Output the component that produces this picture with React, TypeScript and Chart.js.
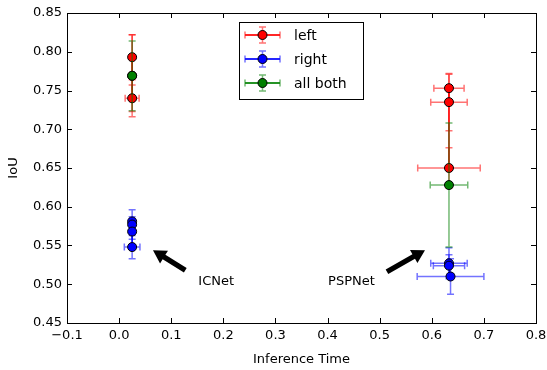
import React, { useEffect, useRef } from 'react';
import { Chart, registerables } from 'chart.js';
Chart.register(...registerables);

const seriesNames = ['left', 'right', 'all both'];
const seriesColors = ['#ff0000', '#0000ff', '#008000'];
const errColors = ['rgba(255,0,0,0.55)', 'rgba(0,0,255,0.55)', 'rgba(0,128,0,0.55)'];

// ICNet
const icnetLeftX = [0.025, 0.025, 0.025];
const icnetLeftY = [0.793, 0.769, 0.740];
const icnetLeftXErr = [0.003, 0.003, 0.0134];
const icnetLeftYErr = [0.029, 0.053, 0.017];

const icnetRightX = [0.025, 0.025, 0.025, 0.025];
const icnetRightY = [0.581, 0.577, 0.568, 0.548];
const icnetRightXErr = [0.003, 0.003, 0.003, 0.015];
const icnetRightYErr = [0.015, 0.01, 0.01, 0.015];

const icnetBothX = [0.025];
const icnetBothY = [0.769];
const icnetBothXErr = [0.003];
const icnetBothYErr = [0.045];

// PSPNet
const pspLeftX = [0.633, 0.633, 0.633];
const pspLeftY = [0.753, 0.735, 0.650];
const pspLeftXErr = [0.029, 0.035, 0.06];
const pspLeftYErr = [0.018, 0.037, 0.026];

const pspRightX = [0.633, 0.633, 0.636];
const pspRightY = [0.527, 0.524, 0.510];
const pspRightXErr = [0.035, 0.03, 0.064];
const pspRightYErr = [0.02, 0.014, 0.023];

const pspBothX = [0.633];
const pspBothY = [0.628];
const pspBothXErr = [0.036];
const pspBothYErr = [0.08];

// Annotations
const annotationTexts = ['ICNet', 'PSPNet'];
const annotationTextX = [0.152, 0.401];
const annotationTextY = [0.503, 0.504];
const arrowTipX = [0.065, 0.587];
const arrowTipY = [0.544, 0.544];
const arrowTailX = [0.127, 0.514];
const arrowTailY = [0.518, 0.516];

const xMin = -0.1, xMax = 0.8, xStep = 0.1;
const yMin = 0.45, yMax = 0.85, yStep = 0.05;
const xTitle = 'Inference Time';
const yTitle = 'IoU';

const FONT = "'DejaVu Sans', sans-serif";

function pts(xs: number[], ys: number[]) {
  return xs.map((x, i) => ({ x, y: ys[i] }));
}

const groups = [
  { s: 0, xs: icnetLeftX, ys: icnetLeftY, xe: icnetLeftXErr, ye: icnetLeftYErr },
  { s: 0, xs: pspLeftX, ys: pspLeftY, xe: pspLeftXErr, ye: pspLeftYErr },
  { s: 1, xs: icnetRightX, ys: icnetRightY, xe: icnetRightXErr, ye: icnetRightYErr },
  { s: 1, xs: pspRightX, ys: pspRightY, xe: pspRightXErr, ye: pspRightYErr },
  { s: 2, xs: icnetBothX, ys: icnetBothY, xe: icnetBothXErr, ye: icnetBothYErr },
  { s: 2, xs: pspBothX, ys: pspBothY, xe: pspBothXErr, ye: pspBothYErr },
];

const CAP = 3.5;

const errorBarPlugin = {
  id: 'errbars',
  beforeDatasetDraw(chart: any, args: any) {
    const g = groups[args.index];
    const ctx = chart.ctx;
    const xs = chart.scales.x, ys = chart.scales.y;
    ctx.save();
    ctx.strokeStyle = errColors[g.s];
    ctx.lineWidth = 1.5;
    g.xs.forEach((xv: number, i: number) => {
      const yv = g.ys[i];
      const px = xs.getPixelForValue(xv), py = ys.getPixelForValue(yv);
      const x1 = xs.getPixelForValue(xv - g.xe[i]), x2 = xs.getPixelForValue(xv + g.xe[i]);
      const y1 = ys.getPixelForValue(yv - g.ye[i]), y2 = ys.getPixelForValue(yv + g.ye[i]);
      ctx.beginPath();
      ctx.moveTo(x1, py); ctx.lineTo(x2, py);
      ctx.moveTo(px, y1); ctx.lineTo(px, y2);
      ctx.moveTo(x1, py - CAP); ctx.lineTo(x1, py + CAP);
      ctx.moveTo(x2, py - CAP); ctx.lineTo(x2, py + CAP);
      ctx.moveTo(px - CAP, y1); ctx.lineTo(px + CAP, y1);
      ctx.moveTo(px - CAP, y2); ctx.lineTo(px + CAP, y2);
      ctx.stroke();
    });
    ctx.restore();
  },
};

const framePlugin = {
  id: 'frame',
  afterDraw(chart: any) {
    const ctx = chart.ctx;
    const { left, right, top, bottom } = chart.chartArea;
    const xs = chart.scales.x, ys = chart.scales.y;
    ctx.save();
    ctx.strokeStyle = '#000';
    ctx.lineWidth = 1;
    const TL = 5;
    ctx.beginPath();
    xs.ticks.forEach((t: any) => {
      const p = Math.round(xs.getPixelForValue(t.value)) + 0.5;
      ctx.moveTo(p, bottom); ctx.lineTo(p, bottom - TL);
      ctx.moveTo(p, top); ctx.lineTo(p, top + TL);
    });
    ys.ticks.forEach((t: any) => {
      const p = Math.round(ys.getPixelForValue(t.value)) + 0.5;
      ctx.moveTo(left, p); ctx.lineTo(left + TL, p);
      ctx.moveTo(right, p); ctx.lineTo(right - TL, p);
    });
    ctx.stroke();
    ctx.strokeRect(Math.round(left) + 0.5, Math.round(top) + 0.5, Math.round(right - left), Math.round(bottom - top));

    // annotations
    ctx.fillStyle = '#000';
    for (let i = 0; i < annotationTexts.length; i++) {
      const tx = xs.getPixelForValue(arrowTailX[i]), ty = ys.getPixelForValue(arrowTailY[i]);
      const hx = xs.getPixelForValue(arrowTipX[i]), hy = ys.getPixelForValue(arrowTipY[i]);
      const dx = hx - tx, dy = hy - ty;
      const L = Math.hypot(dx, dy);
      const ux = dx / L, uy = dy / L;
      const nx = -uy, ny = ux;
      const headL = 13, headW = 7.5, shaftW = 2.6;
      const bx = hx - ux * headL, by = hy - uy * headL;
      ctx.beginPath();
      ctx.moveTo(tx + nx * shaftW, ty + ny * shaftW);
      ctx.lineTo(bx + nx * shaftW, by + ny * shaftW);
      ctx.lineTo(bx + nx * headW, by + ny * headW);
      ctx.lineTo(hx, hy);
      ctx.lineTo(bx - nx * headW, by - ny * headW);
      ctx.lineTo(bx - nx * shaftW, by - ny * shaftW);
      ctx.lineTo(tx - nx * shaftW, ty - ny * shaftW);
      ctx.closePath();
      ctx.fill();

      ctx.font = `13px ${FONT}`;
      ctx.textAlign = 'left';
      ctx.textBaseline = 'middle';
      ctx.fillText(annotationTexts[i], xs.getPixelForValue(annotationTextX[i]), ys.getPixelForValue(annotationTextY[i]));
    }

    // legend
    const bxL = 239.5, byT = 22.5, bw = 124, bh = 77;
    ctx.fillStyle = '#fff';
    ctx.fillRect(bxL, byT, bw, bh);
    ctx.strokeStyle = '#000';
    ctx.lineWidth = 1;
    ctx.strokeRect(bxL, byT, bw, bh);
    const rowY = [35, 59, 83];
    for (let s = 0; s < seriesNames.length; s++) {
      const y = rowY[s];
      const x0 = 245, x1 = 280, xm = 262.5;
      ctx.strokeStyle = errColors[s];
      ctx.lineWidth = 1.5;
      ctx.beginPath();
      ctx.moveTo(x0, y); ctx.lineTo(x1, y);
      ctx.moveTo(x0, y - CAP); ctx.lineTo(x0, y + CAP);
      ctx.moveTo(x1, y - CAP); ctx.lineTo(x1, y + CAP);
      ctx.moveTo(xm, y - 8); ctx.lineTo(xm, y + 8);
      ctx.moveTo(xm - CAP, y - 8); ctx.lineTo(xm + CAP, y - 8);
      ctx.moveTo(xm - CAP, y + 8); ctx.lineTo(xm + CAP, y + 8);
      ctx.stroke();
      ctx.strokeStyle = seriesColors[s];
      ctx.beginPath();
      ctx.moveTo(x0, y); ctx.lineTo(x1, y);
      ctx.stroke();
      ctx.beginPath();
      ctx.arc(xm, y, 4.5, 0, Math.PI * 2);
      ctx.fillStyle = seriesColors[s];
      ctx.fill();
      ctx.strokeStyle = '#000';
      ctx.lineWidth = 1;
      ctx.stroke();
      ctx.fillStyle = '#000';
      ctx.font = `14px ${FONT}`;
      ctx.textAlign = 'left';
      ctx.textBaseline = 'middle';
      ctx.fillText(seriesNames[s], 294, y + 1);
    }
    ctx.restore();
  },
};

function fmt(v: number, d: number) {
  const val = Math.abs(v) < 1e-9 ? 0 : v;
  return val.toFixed(d).replace('-', '\u2212');
}

export default function App() {
  const ref = useRef<HTMLCanvasElement>(null);
  useEffect(() => {
    if (!ref.current) return;
    const datasets = groups.map((g) => ({
      label: seriesNames[g.s],
      data: pts(g.xs, g.ys),
      showLine: true,
      borderColor: seriesColors[g.s],
      borderWidth: 1.5,
      backgroundColor: seriesColors[g.s],
      pointBackgroundColor: seriesColors[g.s],
      pointBorderColor: '#000',
      pointBorderWidth: 1,
      pointRadius: 4.5,
      order: 2 - g.s,
    }));
    const chart = new Chart(ref.current, {
      type: 'scatter',
      data: { datasets },
      options: {
        animation: false,
        responsive: false,
        maintainAspectRatio: false,
        layout: { padding: { left: 0, top: 13, right: 11, bottom: 0 } },
        plugins: { legend: { display: false }, tooltip: { enabled: false } },
        scales: {
          x: {
            type: 'linear',
            min: xMin,
            max: xMax,
            grid: { display: false, drawTicks: false },
            border: { display: false },
            ticks: {
              stepSize: xStep,
              padding: 5,
              color: '#000',
              font: { family: FONT, size: 13 },
              callback: (v: any) => fmt(Number(v), 1),
              maxRotation: 0,
            },
            title: { display: true, text: xTitle, color: '#000', font: { family: FONT, size: 13 }, padding: { top: 0, bottom: 3 } },
            afterFit: (s: any) => { s.height = 47; s.paddingLeft = 0; s.paddingRight = 0; },
          },
          y: {
            type: 'linear',
            min: yMin,
            max: yMax,
            grid: { display: false, drawTicks: false },
            border: { display: false },
            ticks: {
              stepSize: yStep,
              padding: 5,
              color: '#000',
              font: { family: FONT, size: 13 },
              callback: (v: any) => fmt(Number(v), 2),
            },
            title: { display: true, text: yTitle, color: '#000', font: { family: FONT, size: 13 }, padding: { top: 6, bottom: 0 } },
            afterFit: (s: any) => { s.width = 67; s.paddingTop = 0; s.paddingBottom = 0; },
          },
        },
      },
      plugins: [errorBarPlugin, framePlugin],
    });
    return () => chart.destroy();
  }, []);
  return (
    <div style={{ position: 'absolute', left: 0, top: 0, width: 547, height: 370, background: '#fff' }}>
      <canvas ref={ref} width={547} height={370} />
    </div>
  );
}
